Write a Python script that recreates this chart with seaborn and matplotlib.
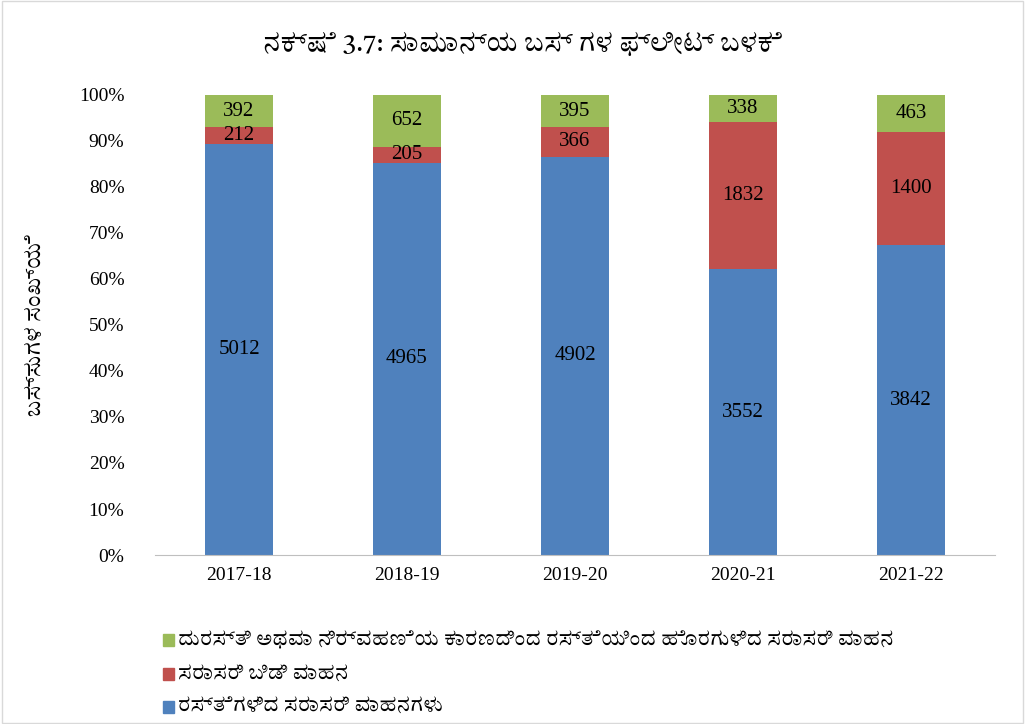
import matplotlib
matplotlib.use("Agg")
import matplotlib.pyplot as plt
from matplotlib import font_manager
import seaborn as sns
import pandas as pd

years = ["2017-18", "2018-19", "2019-20", "2020-21", "2021-22"]
on_road = [5012, 4965, 4902, 3552, 3842]
spare = [212, 205, 366, 1832, 1400]
off_road = [392, 652, 395, 338, 463]

title = "ನಕ್ಷೆ 3.7: ಸಾಮಾನ್ಯ ಬಸ್ ಗಳ ಫ್ಲೀಟ್ ಬಳಕೆ"
ylabel = "ಬಸ್ಸುಗಳ ಸಂಖ್ಯೆ"
legend_labels = [
    "ದುರಸ್ತಿ ಅಥವಾ ನಿರ್ವಹಣೆಯ ಕಾರಣದಿಂದ ರಸ್ತೆಯಿಂದ ಹೊರಗುಳಿದ ಸರಾಸರಿ ವಾಹನ",
    "ಸರಾಸರಿ ಬಿಡಿ ವಾಹನ",
    "ರಸ್ತೆಗಳಿದ ಸರಾಸರಿ ವಾಹನಗಳು",
]
colors = ["#9BBB59", "#C0504D", "#4F81BD"]

sns.set_style("white")
plt.rcParams["text.color"] = "black"
plt.rcParams["xtick.color"] = "black"
plt.rcParams["ytick.color"] = "black"
plt.rcParams["axes.labelcolor"] = "black"

# whatever Kannada font is installed, with fallbacks
names = set(f.name for f in font_manager.fontManager.ttflist)
kfam = [n for n in names if "Kannada" in n or "Tunga" in n] + ["Noto Sans", "DejaVu Sans"]
serif = ["Liberation Serif", "DejaVu Serif"]

df = pd.DataFrame({"year": years, "on_road": on_road, "spare": spare, "off_road": off_road})
tot = df[["on_road", "spare", "off_road"]].sum(axis=1)
df["p_on"] = df["on_road"] / tot * 100
df["p_sp"] = df["spare"] / tot * 100
df["p_off"] = df["off_road"] / tot * 100

fig = plt.figure(figsize=(10.25, 7.24), dpi=100)
ax = fig.add_axes([155 / 1025, 1 - 555 / 724, 840 / 1025, 460 / 724])

sns.barplot(data=df, x="year", y="p_on", color=colors[2], width=0.4, saturation=1,
            linewidth=0, ax=ax)
sns.barplot(data=df, x="year", y="p_sp", color=colors[1], width=0.4, saturation=1,
            linewidth=0, bottom=df["p_on"], ax=ax)
sns.barplot(data=df, x="year", y="p_off", color=colors[0], width=0.4, saturation=1,
            linewidth=0, bottom=df["p_on"] + df["p_sp"], ax=ax)

for i in range(len(years)):
    b1 = df["p_on"][i]
    b2 = b1 + df["p_sp"][i]
    ax.text(i, b1 / 2, str(on_road[i]), ha="center", va="center", fontsize=15, family=serif)
    ax.text(i, (b1 + b2) / 2, str(spare[i]), ha="center", va="center", fontsize=15, family=serif)
    ax.text(i, (b2 + 100) / 2, str(off_road[i]), ha="center", va="center", fontsize=15, family=serif)

ax.set_xlim(-0.5, 4.5)
ax.set_ylim(0, 100)
ax.set_yticks(range(0, 101, 10))
ax.set_yticklabels([f"{v}%" for v in range(0, 101, 10)], family=serif, fontsize=14)
ax.set_xticks(range(5))
ax.set_xticklabels(years, family=serif, fontsize=14)
ax.tick_params(axis="y", length=0, pad=22)
ax.tick_params(axis="x", length=0, pad=9)
ax.set_xlabel("")
ax.set_ylabel(ylabel, family=kfam, fontsize=15, labelpad=24)
sns.despine(ax=ax, left=True)
ax.spines["bottom"].set_color("#BFBFBF")

fig.text(0.51, 1 - 45 / 724, title, ha="center", va="center", fontsize=18,
         fontweight="bold", family=kfam)

for k, (lab, c) in enumerate(zip(legend_labels, colors)):
    y = 1 - (640 + 33.5 * k) / 724
    fig.patches.append(plt.Rectangle((163 / 1025, y - 6 / 724), 11 / 1025, 12 / 724,
                                     transform=fig.transFigure, color=c, figure=fig))
    fig.text(178 / 1025, y, lab, ha="left", va="center", fontsize=14, family=kfam)

fig.patches.append(plt.Rectangle((0.002, 0.002), 0.996, 0.996, transform=fig.transFigure,
                                 fill=False, edgecolor="#D9D9D9", lw=1, figure=fig))

fig.savefig("out.png", dpi=100)
